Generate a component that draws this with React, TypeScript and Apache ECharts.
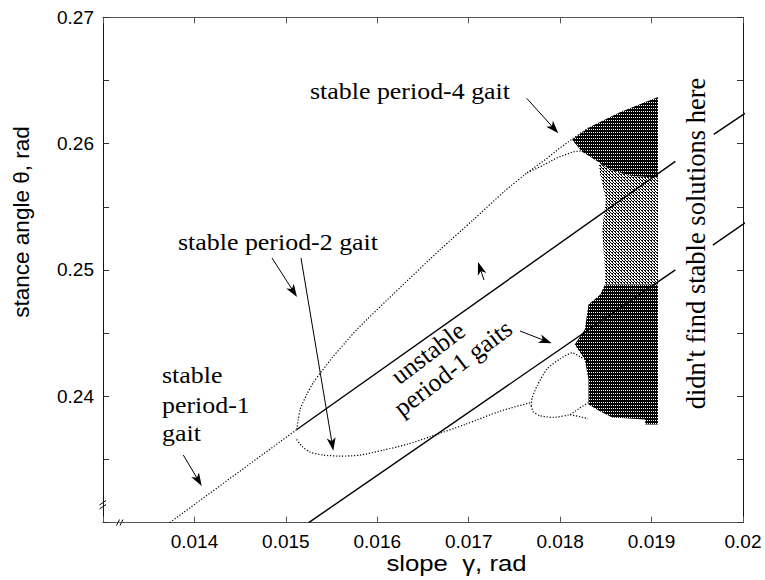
import React, { useEffect, useRef } from "react";
import * as echarts from "echarts";

// ---------- axes ----------
const xMin = 0.013;
const xMax = 0.02;
const xStep = 0.001;
const yMin = 0.23;
const yMax = 0.27;
const yStep = 0.01;

// ---------- curves: [slope gamma, stance angle theta] ----------
const stablePeriod1 = [[0.01373, 0.23], [0.01512, 0.23737]];
const unstablePeriod1Upper = [[0.01512, 0.23737], [0.01926, 0.25859]];
const unstablePeriod1Lower = [[0.01525, 0.23], [0.01926, 0.25]];
const unstableUpperBeyond = [[0.01968, 0.26073], [0.02024, 0.26345]];
const unstableLowerBeyond = [[0.01967, 0.25196], [0.02024, 0.25482]];

const period2Upper = [
  [0.015119, 0.237375], [0.015137, 0.238166], [0.015155, 0.238957], [0.015229, 0.240143],
  [0.015301, 0.241091], [0.015393, 0.241984], [0.01552, 0.24317], [0.015648, 0.244229],
  [0.015776, 0.245281], [0.016249, 0.248601], [0.016687, 0.251605], [0.017051, 0.253976],
  [0.017398, 0.256269], [0.017639, 0.257692],
];
const period4UpperA = [[0.017639, 0.257692], [0.017836, 0.258719], [0.018, 0.259668], [0.018164, 0.260538], [0.018328, 0.261328]];
const period4UpperB = [[0.017639, 0.257692], [0.017781, 0.258166], [0.017967, 0.258878], [0.018142, 0.259352], [0.018328, 0.25951]];
const period2Lower = [
  [0.015119, 0.236585], [0.015174, 0.236055], [0.015265, 0.235581], [0.01541, 0.235344],
  [0.015593, 0.235265], [0.015812, 0.235344], [0.016067, 0.235739], [0.016323, 0.23619],
  [0.016578, 0.236798], [0.016961, 0.237771], [0.017344, 0.238822], [0.017672, 0.239486],
];
const loopUpper = [[0.017683, 0.239249], [0.017694, 0.239881], [0.017748, 0.24083], [0.017858, 0.242174], [0.018, 0.242964], [0.018131, 0.243439], [0.018219, 0.243123], [0.018306, 0.242806]];
const loopLower = [[0.017683, 0.239249], [0.017705, 0.238775], [0.017781, 0.238459], [0.017923, 0.238324], [0.018109, 0.238538]];
const loopLowerSplitA = [[0.018109, 0.238538], [0.018219, 0.239091], [0.018306, 0.239486]];
const loopLowerSplitB = [[0.018109, 0.238538], [0.018219, 0.238379], [0.018306, 0.238221]];

// ---------- chaotic region outlines ----------
const chaosUpper = [
  [0.01813, 0.2603], [0.01833, 0.26133], [0.01866, 0.26251], [0.01907, 0.2637],
  [0.01907, 0.2573], [0.01877, 0.25746], [0.01855, 0.25793], [0.01838, 0.25872], [0.01824, 0.25935],
];
const chaosMiddle = [
  [0.01842, 0.25853], [0.01855, 0.25793], [0.01877, 0.25746], [0.01907, 0.2573],
  [0.01907, 0.24884], [0.01849, 0.24884], [0.01849, 0.25002], [0.01846, 0.25319],
  [0.0185, 0.25556], [0.01844, 0.25753],
];
const chaosLower = [
  [0.01849, 0.24884], [0.01907, 0.24884], [0.01907, 0.23777], [0.01893, 0.23777],
  [0.01893, 0.23817], [0.01857, 0.23832], [0.01844, 0.2388], [0.01831, 0.23935],
  [0.01831, 0.24133], [0.01827, 0.24291], [0.01816, 0.2441], [0.01827, 0.24528],
  [0.01831, 0.24726], [0.01844, 0.24805],
];
const chaosRegions = [chaosUpper, chaosMiddle, chaosLower];

// ---------- texts ----------
const xTitle = "slope  γ, rad";
const yTitle = "stance angle θ, rad";
const labelP4 = "stable period-4 gait";
const labelP2 = "stable period-2 gait";
const labelP1 = ["stable", "period-1", "gait"];
const labelUnstable = ["unstable", "period-1 gaits"];
const labelNone = "didn't find stable solutions here";

const SANS = '"Liberation Sans", Arial, Helvetica, sans-serif';
const SERIF = '"Liberation Serif", "Times New Roman", serif';

function makePattern(cells: number[][], w: number, h: number) {
  const c = document.createElement("canvas");
  c.width = w;
  c.height = h;
  const ctx = c.getContext("2d")!;
  ctx.fillStyle = "#000";
  cells.forEach(([x, y]) => ctx.fillRect(x, y, 1, 1));
  return { image: c, repeat: "repeat", imageWidth: w, imageHeight: h } as any;
}

function arrow(x1: number, y1: number, x2: number, y2: number) {
  const dx = x2 - x1;
  const dy = y2 - y1;
  const len = Math.hypot(dx, dy);
  const ux = dx / len;
  const uy = dy / len;
  const nx = -uy;
  const ny = ux;
  const L = 13;
  const W = 4.5;
  const notch = 3.5;
  const bx = x2 - ux * L;
  const by = y2 - uy * L;
  return [
    { type: "line", shape: { x1, y1, x2: x2 - ux * 6, y2: y2 - uy * 6 }, style: { stroke: "#000", lineWidth: 1 }, silent: true },
    {
      type: "polygon",
      shape: {
        points: [
          [x2, y2],
          [bx + nx * W, by + ny * W],
          [x2 - ux * (L - notch), y2 - uy * (L - notch)],
          [bx - nx * W, by - ny * W],
        ],
      },
      style: { fill: "#000" },
      silent: true,
    },
  ];
}

function text(t: string, x: number, y: number, font: string, align = "left", rotation = 0, scaleX = 1) {
  return {
    type: "text",
    x,
    y,
    rotation,
    scaleX,
    silent: true,
    style: {
      text: t,
      font,
      fill: "#000",
      align,
      textAlign: align,
      verticalAlign: "middle",
      textVerticalAlign: "middle",
    },
  };
}

export default function App() {
  const ref = useRef<HTMLDivElement>(null);

  useEffect(() => {
    if (!ref.current) return;
    const chart = echarts.init(ref.current, null, { renderer: "svg" });

    const dense = makePattern([[0, 0], [0, 1], [1, 1], [0, 2], [1, 2]], 2, 3);
    const medium = makePattern([[0, 0], [0, 1], [1, 2], [2, 0]], 3, 3);
    const fills = [dense, medium, dense];

    const dotted = (data: number[][], smooth = 0) => ({
      type: "line",
      data,
      symbol: "none",
      smooth,
      silent: true,
      z: 3,
      lineStyle: { color: "#000", width: 1.2, type: [1.2, 1.8] },
    });
    const solid = (data: number[][], clip = true) => ({
      type: "line",
      data,
      symbol: "none",
      clip,
      silent: true,
      z: 4,
      lineStyle: { color: "#000", width: 1.4, type: "solid" },
    });

    const xFmt = (v: number) => (Math.abs(v - xMin) < 1e-9 ? "" : String(parseFloat(v.toFixed(3))));
    const yFmt = (v: number) => (Math.abs(v - yMin) < 1e-9 ? "" : v.toFixed(2));

    const xAxisBase = {
      type: "value",
      min: xMin,
      max: xMax,
      interval: xStep,
      splitLine: { show: false },
      axisLine: { show: true, onZero: false, lineStyle: { color: "#555", width: 1.2 } },
      axisTick: { show: true, inside: true, length: 6, lineStyle: { color: "#555", width: 1 } },
    };
    const yAxisBase = {
      type: "value",
      min: yMin,
      max: yMax,
      interval: yStep,
      splitLine: { show: false },
      axisLine: { show: true, onZero: false, lineStyle: { color: "#111", width: 1 } },
      axisTick: { show: true, inside: true, length: 6, lineStyle: { color: "#333", width: 1 } },
      minorTick: { show: true, splitNumber: 2, length: 6, lineStyle: { color: "#333", width: 1 } },
    };

    const graphics: any[] = [
      text(xTitle, 456.5, 562.5, `23px ${SANS}`, "center", 0, 1.12),
      text(yTitle, 21, 222, `22.5px ${SANS}`, "center", Math.PI / 2),
      text(labelP4, 310, 91, `24px ${SERIF}`, "left", 0, 1.08),
      text(labelP2, 178, 242, `24px ${SERIF}`, "left", 0, 1.08),
      text(labelP1[0], 162, 374.6, `24px ${SERIF}`, "left", 0, 1.08),
      text(labelP1[1], 162, 404.6, `24px ${SERIF}`, "left", 0, 1.08),
      text(labelP1[2], 162, 432.6, `24px ${SERIF}`, "left", 0, 1.08),
      text(labelUnstable[0], 428, 353, `25.5px ${SERIF}`, "center", 0.65),
      text(labelUnstable[1], 453, 368, `25.5px ${SERIF}`, "center", 0.65),
      text(labelNone, 696, 243.5, `26.5px ${SERIF}`, "center", Math.PI / 2),
      ...arrow(183.3, 455, 201.7, 486),
      ...arrow(272, 258, 297, 297),
      ...arrow(301, 258, 333.3, 450.7),
      ...arrow(526.7, 98.3, 558.3, 133.3),
      ...arrow(484, 280, 478, 262),
      ...arrow(520, 331, 551.7, 343.3),
      // axis break marks
      { type: "line", shape: { x1: 116.5, y1: 525.5, x2: 119.5, y2: 519.5 }, style: { stroke: "#000", lineWidth: 1 } },
      { type: "line", shape: { x1: 120, y1: 525.5, x2: 123, y2: 519.5 }, style: { stroke: "#000", lineWidth: 1 } },
      { type: "line", shape: { x1: 99.5, y1: 505, x2: 106, y2: 500.5 }, style: { stroke: "#000", lineWidth: 1 } },
      { type: "line", shape: { x1: 99.5, y1: 509, x2: 106, y2: 504.5 }, style: { stroke: "#000", lineWidth: 1 } },
    ];

    chart.setOption({
      animation: false,
      backgroundColor: "#fff",
      grid: { left: 103, right: 22, top: 17.3, bottom: 57.4, containLabel: false },
      xAxis: [
        {
          ...xAxisBase,
          position: "bottom",
          axisLabel: { show: true, margin: 9, formatter: xFmt, color: "#000", fontSize: 19, fontFamily: SANS },
        },
        { ...xAxisBase, position: "top", axisLabel: { show: false } },
      ],
      yAxis: [
        {
          ...yAxisBase,
          position: "left",
          axisLabel: { show: true, margin: 9, formatter: yFmt, color: "#000", fontSize: 19, fontFamily: SANS },
        },
        { ...yAxisBase, position: "right", axisLabel: { show: false } },
      ],
      series: [
        {
          type: "custom",
          coordinateSystem: "cartesian2d",
          silent: true,
          z: 2,
          data: chaosRegions.map((r, i) => [r[0][0], r[0][1], i]),
          renderItem: (params: any, api: any) => {
            const reg = chaosRegions[params.dataIndex];
            return {
              type: "polygon",
              shape: { points: reg.map((p) => api.coord(p)) },
              style: { fill: fills[params.dataIndex], stroke: null },
            };
          },
        },
        dotted(stablePeriod1),
        dotted(period2Upper, 0.25),
        dotted(period2Lower, 0.25),
        dotted(period4UpperA),
        dotted(period4UpperB),
        dotted(loopUpper, 0.2),
        dotted(loopLower, 0.2),
        dotted(loopLowerSplitA),
        dotted(loopLowerSplitB),
        solid(unstablePeriod1Upper),
        solid(unstablePeriod1Lower),
        solid(unstableUpperBeyond, false),
        solid(unstableLowerBeyond, false),
      ],
      graphic: graphics,
    });

    return () => chart.dispose();
  }, []);

  return (
    <div
      ref={ref}
      style={{ position: "fixed", left: 0, top: 0, width: 765, height: 580, background: "#fff" }}
    />
  );
}
